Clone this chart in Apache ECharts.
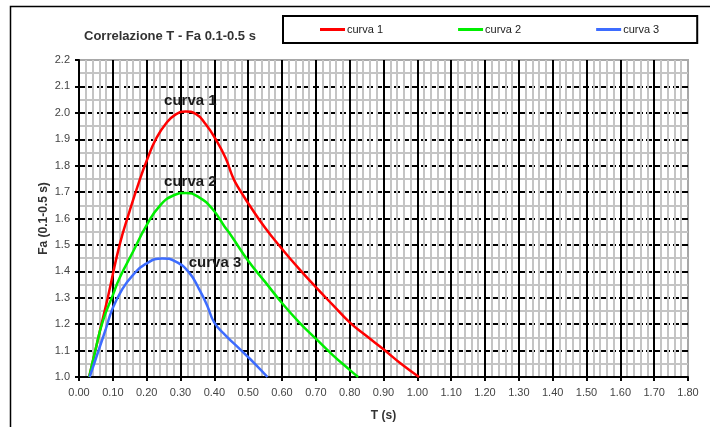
<!DOCTYPE html>
<html>
<head>
<meta charset="utf-8">
<script src="https://cdn.jsdelivr.net/npm/echarts@6/dist/echarts.min.js"></script>
<style>
  html, body { margin: 0; padding: 0; background: #fff; }
  #chart { width: 710px; height: 427px; }
</style>
</head>
<body>
<div id="chart"></div>
<script>
// Curve data: period T (s) against amplification factor Fa (0.1-0.5 s)
const curve1T  = [0.03, 0.06, 0.085, 0.12, 0.15, 0.177, 0.202, 0.227, 0.256, 0.286, 0.315, 0.345, 0.374, 0.404, 0.433, 0.451, 0.462, 0.483, 0.502, 0.55, 0.60, 0.65, 0.70, 0.75, 0.80, 0.85, 0.90, 0.95, 1.005];
const curve1Fa = [1.00, 1.165, 1.30, 1.50, 1.63, 1.737, 1.825, 1.90, 1.958, 1.994, 2.005, 1.996, 1.958, 1.90, 1.83, 1.768, 1.737, 1.692, 1.654, 1.565, 1.485, 1.41, 1.34, 1.273, 1.207, 1.155, 1.105, 1.052, 1.00];

const curve2T  = [0.03, 0.05, 0.07, 0.10, 0.12, 0.16, 0.20, 0.24, 0.28, 0.315, 0.355, 0.395, 0.43, 0.45, 0.50, 0.55, 0.60, 0.65, 0.70, 0.75, 0.80, 0.825];
const curve2Fa = [1.00, 1.11, 1.21, 1.31, 1.375, 1.475, 1.575, 1.65, 1.688, 1.697, 1.68, 1.635, 1.57, 1.535, 1.44, 1.36, 1.28, 1.208, 1.145, 1.083, 1.027, 1.00];

const curve3T  = [0.0315, 0.059, 0.079, 0.0985, 0.128, 0.158, 0.197, 0.246, 0.286, 0.325, 0.355, 0.379, 0.40, 0.433, 0.48, 0.52, 0.557];
const curve3Fa = [1.00, 1.105, 1.181, 1.257, 1.333, 1.384, 1.428, 1.449, 1.437, 1.396, 1.333, 1.27, 1.206, 1.158, 1.10, 1.05, 1.00];

const seriesNames  = ['curva 1', 'curva 2', 'curva 3'];
const seriesColors = ['#ff0000', '#00ee00', '#3d6cff'];

// In-plot captions, placed in data coordinates [T, Fa]
const captionT  = [0.329, 0.329, 0.402];
const captionFa = [2.045, 1.739, 1.433];

// Axis ranges and steps
const xMin = 0, xMax = 1.8, xStep = 0.1;
const yMin = 1.0, yMax = 2.2, yStep = 0.1;

const pairs = (xs, ys) => xs.map((x, i) => [x, ys[i]]);
const curves = [pairs(curve1T, curve1Fa), pairs(curve2T, curve2Fa), pairs(curve3T, curve3Fa)];

const font = 'Liberation Sans, Arial, sans-serif';

const chart = echarts.init(document.getElementById('chart'));

const lineSeries = curves.map((data, i) => ({
  name: seriesNames[i],
  type: 'line',
  data: data,
  smooth: 0.5,
  symbol: 'none',
  lineStyle: { color: seriesColors[i], width: 2.5 },
  itemStyle: { color: seriesColors[i] },
  z: 5
}));

const captionSeries = {
  type: 'scatter',
  data: seriesNames.map((n, i) => ({ value: [captionT[i], captionFa[i]], name: n })),
  symbolSize: 0,
  silent: true,
  itemStyle: { color: 'transparent' },
  label: {
    show: true,
    position: 'inside',
    formatter: p => p.name,
    fontFamily: font,
    fontSize: 15,
    fontWeight: 'bold',
    color: '#1a1a1a',
    opacity: 1,
    textBorderWidth: 0,
    textBorderColor: 'transparent'
  },
  z: 6
};

chart.setOption({
  animation: false,
  backgroundColor: '#fff',
  title: {
    text: 'Correlazione T - Fa 0.1-0.5 s',
    left: 79,
    top: 25,
    textStyle: { fontFamily: font, fontSize: 13, fontWeight: 'bold', color: '#333' }
  },
  legend: {
    data: seriesNames,
    left: 283,
    top: 16,
    orient: 'horizontal',
    icon: 'rect',
    itemWidth: 25,
    itemHeight: 3,
    itemGap: 75,
    padding: [8, 38, 8, 37],
    borderColor: '#000',
    borderWidth: 2,
    textStyle: { fontFamily: font, fontSize: 11, color: '#222', padding: [0, 0, 0, -3] }
  },
  graphic: [{
    type: 'rect',
    shape: { x: 10.5, y: 6.5, width: 720, height: 440 },
    style: { fill: null, stroke: '#000', lineWidth: 1.5 },
    silent: true,
    z: -1
  }],
  grid: {
    left: 79,
    right: 22,
    top: 60,
    bottom: 49,
    show: true,
    backgroundColor: '#fff',
    borderColor: '#a8a8a8',
    borderWidth: 2
  },
  xAxis: {
    type: 'value',
    min: xMin,
    max: xMax,
    interval: xStep,
    name: 'T (s)',
    nameLocation: 'middle',
    nameGap: 33,
    nameTextStyle: { fontFamily: font, fontSize: 12, fontWeight: 'bold', color: '#333' },
    axisLine: { show: true, onZero: false, lineStyle: { color: '#000', width: 2 } },
    axisTick: { show: true, length: 4, lineStyle: { color: '#000', width: 2 } },
    axisLabel: {
      margin: 10,
      formatter: v => v.toFixed(2),
      fontFamily: font,
      fontSize: 11,
      color: '#444'
    },
    splitLine: {
      show: true,
      showMinLine: false,
      showMaxLine: false,
      lineStyle: { color: '#000', width: 2, type: 'solid' }
    },
    minorTick: { show: false, splitNumber: 5 },
    minorSplitLine: { show: true, lineStyle: { color: '#c4c4c4', width: 2 } }
  },
  yAxis: {
    type: 'value',
    min: yMin,
    max: yMax,
    interval: yStep,
    name: 'Fa (0.1-0.5 s)',
    nameLocation: 'middle',
    nameGap: 29,
    nameMoveOverlap: false,
    nameRotate: 90,
    nameTextStyle: { fontFamily: font, fontSize: 12, fontWeight: 'bold', color: '#333' },
    axisLine: { show: true, lineStyle: { color: '#000', width: 2 } },
    axisTick: { show: true, length: 4, lineStyle: { color: '#000', width: 2 } },
    axisLabel: {
      margin: 9,
      formatter: v => v.toFixed(1),
      fontFamily: font,
      fontSize: 11,
      color: '#444'
    },
    splitLine: {
      show: true,
      showMinLine: false,
      showMaxLine: false,
      lineStyle: { color: '#000', width: 2, type: [6, 3] }
    },
    minorTick: { show: false, splitNumber: 2 },
    minorSplitLine: { show: true, lineStyle: { color: '#c4c4c4', width: 2 } }
  },
  series: lineSeries.concat([captionSeries])
});
</script>
</body>
</html>
